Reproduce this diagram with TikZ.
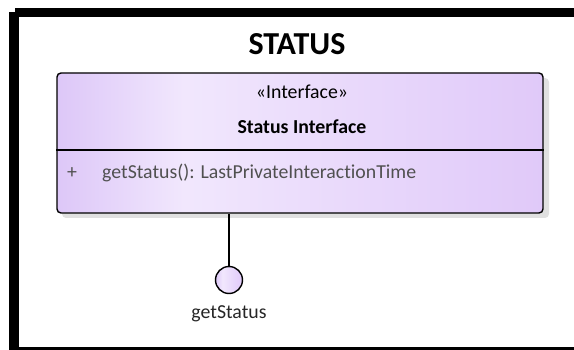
\documentclass[tikz,border=0pt]{standalone}
\usepackage{fontspec}
\setmainfont[Ligatures=NoCommon]{Carlito}
\usetikzlibrary{positioning, calc}
\definecolor{lavleft}{RGB}{221,199,248}
\definecolor{lavmid}{RGB}{241,231,253}
\definecolor{lavright}{RGB}{224,201,249}
\definecolor{opgray}{RGB}{80,80,80}
\definecolor{shadowgray}{RGB}{224,224,224}
\pgfdeclarehorizontalshading{lavshade}{100bp}{color(0bp)=(lavleft); color(25bp)=(lavleft); color(38bp)=(lavmid); color(75bp)=(lavright); color(100bp)=(lavright)}

\begin{document}
\begin{tikzpicture}[x=1pt, y=-1pt,
    classbox/.style={draw, line width=1.4pt, rounded corners=4pt, shading=lavshade, minimum width=486pt, minimum height=140pt, inner sep=0pt},
    porthead/.style={draw, line width=1.4pt, circle, shading=lavshade, minimum size=27pt, inner sep=0pt},
    bodytext/.style={font=\fontsize{19.8}{23}\selectfont, inner sep=0pt}]
    \useasboundingbox (0,0) rectangle (574,350);

    % Frame
    \fill[black] (9,12) rectangle (19,350);
    \fill[black] (15,8) rectangle (574,17.5);
    \fill[black] (19,347.5) rectangle (574,350);
    \node[font=\fontsize{32}{37}\bfseries, inner sep=0pt] (title) at (297,44) {STATUS};

    % Interface class
    \fill[shadowgray, rounded corners=4pt] (62,78) rectangle (549,218);
    \node[classbox] (iface) at (300,143) {};
    \draw[line width=1.2pt] (iface.west |- 0,150) -- (iface.east |- 0,150);
    \node[bodytext] (stereo) at (302,92) {«Interface»};
    \node[bodytext, font=\fontsize{19.8}{23}\bfseries] (ifname) at (302,127) {Status Interface};
    \node[bodytext, text=opgray] (vis) at (72,173) {+};
    \node[bodytext, text=opgray, anchor=west] (op) at (102,173) {getStatus(): LastPrivateInteractionTime};

    % Provided interface (lollipop)
    \node[porthead] (port) at (229,280) {};
    \draw[line width=1.4pt] (port.north) -- (port |- iface.south);
    \node[bodytext, text=black!85, below=11pt of port] (portname) {getStatus};
\end{tikzpicture}
\end{document}
